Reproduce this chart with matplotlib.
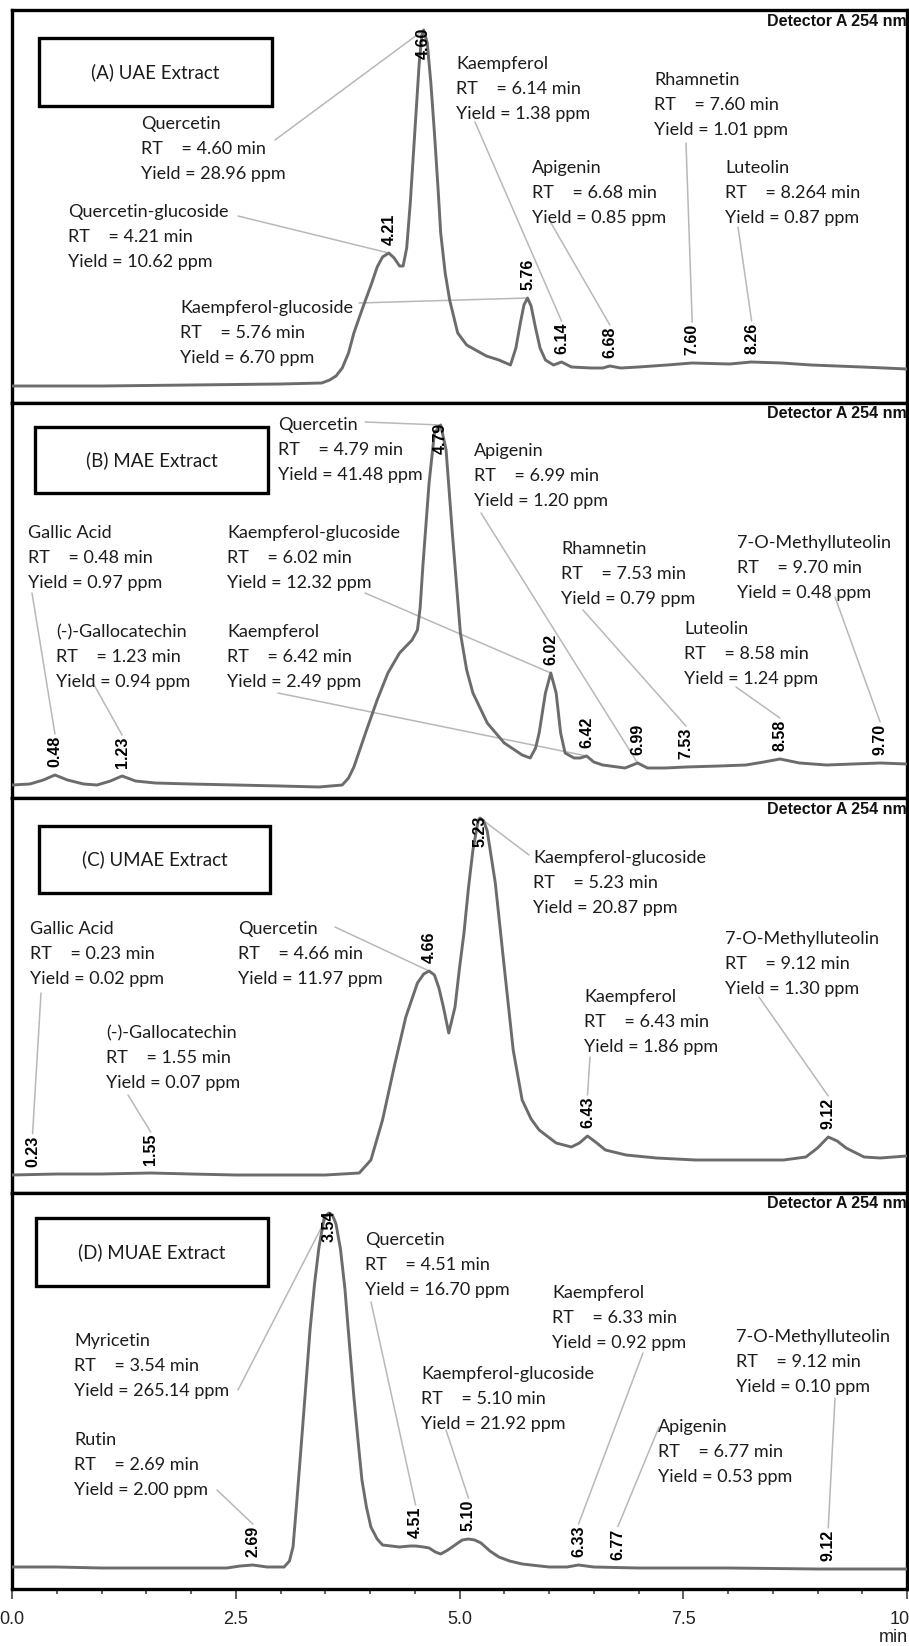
import numpy as np
import matplotlib.pyplot as plt
from matplotlib.patches import Rectangle
from matplotlib.ticker import MultipleLocator

# ---- chromatogram traces (time in min, detector response in arbitrary units) ----
t_a = [0.0, 1.0, 2.0, 3.0, 3.46, 3.55, 3.62, 3.69, 3.76, 3.82, 3.89, 3.95, 4.02, 4.08, 4.14, 4.21,
       4.27, 4.33, 4.37, 4.41, 4.45, 4.50, 4.55, 4.58, 4.60, 4.64, 4.68, 4.72, 4.76, 4.79, 4.84,
       4.89, 4.98, 5.08, 5.18, 5.30, 5.44, 5.57, 5.63, 5.68, 5.72, 5.76, 5.80, 5.85, 5.90, 5.96,
       6.05, 6.14, 6.25, 6.47, 6.60, 6.68, 6.80, 7.00, 7.32, 7.60, 8.02, 8.26, 8.60, 8.93, 9.50, 10.0]
s_a = [17, 17, 18, 19, 20, 23, 27, 35, 50, 70, 88, 103, 120, 136, 146, 150,
       145, 137, 137, 155, 200, 270, 340, 368, 373, 360, 320, 270, 215, 170, 130,
       103, 70, 58, 53, 47, 43, 38, 55, 80, 98, 105, 97, 75, 55, 43,
       38, 41, 36, 35, 35, 37, 35, 36, 38, 40, 39, 41, 40, 38, 36, 34]

t_b = [0.0, 0.2, 0.35, 0.48, 0.62, 0.8, 0.95, 1.1, 1.23, 1.38, 1.6, 2.0, 2.5, 3.0, 3.43, 3.69,
       3.76, 3.82, 3.95, 4.08, 4.20, 4.33, 4.47, 4.53, 4.56, 4.59, 4.66, 4.72, 4.79, 4.85, 4.92,
       5.01, 5.08, 5.15, 5.31, 5.50, 5.70, 5.79, 5.85, 5.89, 5.96, 6.02, 6.08, 6.13, 6.18, 6.28,
       6.35, 6.42, 6.50, 6.60, 6.85, 6.99, 7.10, 7.30, 7.53, 7.90, 8.20, 8.40, 8.58, 8.80, 9.10,
       9.40, 9.70, 10.0]
s_b = [13, 14, 18, 23, 18, 14, 13, 17, 22, 17, 15, 14, 13, 12, 11, 13,
       20, 31, 65, 98, 125, 145, 158, 168, 190, 231, 315, 365, 373, 348, 265,
       165, 128, 105, 75, 55, 43, 40, 50, 65, 105, 125, 105, 65, 45, 40,
       40, 42, 36, 33, 30, 35, 30, 30, 31, 32, 33, 36, 39, 35, 33,
       34, 35, 34]

t_c = [0.0, 0.5, 1.0, 1.55, 2.0, 2.5, 3.0, 3.5, 3.88, 4.01, 4.14, 4.27, 4.40, 4.53, 4.60, 4.66,
       4.72, 4.77, 4.82, 4.88, 4.95, 5.00, 5.05, 5.10, 5.15, 5.21, 5.23, 5.27, 5.31, 5.40, 5.50,
       5.60, 5.70, 5.80, 5.89, 6.08, 6.25, 6.34, 6.43, 6.52, 6.63, 6.86, 7.20, 7.64, 8.20, 8.62,
       8.87, 9.00, 9.12, 9.22, 9.32, 9.52, 9.70, 10.0]
s_c = [18, 19, 19, 20, 19, 18, 18, 18, 20, 33, 73, 126, 176, 210, 219, 222,
       218, 205, 186, 160, 186, 225, 260, 305, 343, 373, 375, 372, 362, 310, 226,
       143, 93, 74, 63, 50, 46, 50, 57, 51, 43, 38, 35, 33, 33, 33,
       36, 45, 56, 52, 45, 36, 35, 37]

t_d = [0.0, 0.5, 1.0, 1.5, 2.0, 2.4, 2.55, 2.69, 2.85, 3.04, 3.10, 3.14, 3.18, 3.23, 3.28, 3.33,
       3.38, 3.43, 3.49, 3.54, 3.58, 3.62, 3.67, 3.72, 3.77, 3.82, 3.87, 3.91, 3.96, 4.01, 4.08,
       4.14, 4.33, 4.45, 4.51, 4.60, 4.66, 4.73, 4.79, 4.87, 4.95, 5.03, 5.10, 5.17, 5.24, 5.34,
       5.44, 5.56, 5.70, 6.00, 6.20, 6.33, 6.50, 7.00, 8.00, 9.00, 10.0]
s_d = [22, 22, 21, 21, 21, 21, 23, 24, 22, 22, 28, 42, 85, 142, 200, 259,
       305, 342, 372, 376, 374, 365, 340, 300, 245, 192, 145, 109, 82, 62, 50,
       44, 42, 43, 43, 42, 41, 37, 35, 39, 44, 49, 50, 49, 46, 38,
       32, 28, 25, 22, 22, 24, 22, 21, 21, 20, 20]

# ---- identified compounds ----
names_a = ['Quercetin-glucoside', 'Quercetin', 'Kaempferol-glucoside', 'Kaempferol',
           'Apigenin', 'Rhamnetin', 'Luteolin']
rt_a = ['4.21', '4.60', '5.76', '6.14', '6.68', '7.60', '8.264']
yield_a = ['10.62', '28.96', '6.70', '1.38', '0.85', '1.01', '0.87']

names_b = ['Gallic Acid', '(-)-Gallocatechin', 'Quercetin', 'Kaempferol-glucoside', 'Kaempferol',
           'Apigenin', 'Rhamnetin', 'Luteolin', '7-O-Methylluteolin']
rt_b = ['0.48', '1.23', '4.79', '6.02', '6.42', '6.99', '7.53', '8.58', '9.70']
yield_b = ['0.97', '0.94', '41.48', '12.32', '2.49', '1.20', '0.79', '1.24', '0.48']

names_c = ['Gallic Acid', '(-)-Gallocatechin', 'Quercetin', 'Kaempferol-glucoside', 'Kaempferol',
           '7-O-Methylluteolin']
rt_c = ['0.23', '1.55', '4.66', '5.23', '6.43', '9.12']
yield_c = ['0.02', '0.07', '11.97', '20.87', '1.86', '1.30']

names_d = ['Rutin', 'Myricetin', 'Quercetin', 'Kaempferol-glucoside', 'Kaempferol', 'Apigenin',
           '7-O-Methylluteolin']
rt_d = ['2.69', '3.54', '4.51', '5.10', '6.33', '6.77', '9.12']
yield_d = ['2.00', '265.14', '16.70', '21.92', '0.92', '0.53', '0.10']

titles = ['(A) UAE Extract', '(B) MAE Extract', '(C) UMAE Extract', '(D) MUAE Extract']
x_ticks = [0.0, 2.5, 5.0, 7.5, 10.0]

# ---- layout (pixels of the 909 x 1646 picture) ----
W, H = 909, 1646
frames = [(10, 403), (403, 798), (798, 1193), (1193, 1589)]
boxes = [(39, 38, 233, 68), (35, 427, 233, 66), (39, 826, 231, 67), (36, 1218, 232, 68)]
# text block (left, first-line y), leader start (x, y), leader end at 'apex' or 'label'
lay_a = [((68, 211), (238, 216), 'apex'), ((141, 123), (275, 140), 'apex'),
         ((180, 307), (359, 303), 'apex'), ((456, 63), (475, 122), 'label'),
         ((532, 167), (551, 223), 'label'), ((654, 79), (686, 143), 'label'),
         ((725, 167), (738, 227), 'label')]
lay_b = [((28, 532), (32, 593), 'label'), ((56, 631), (93, 683), 'label'),
         ((278, 424), (365, 422), 'apex'), ((227, 532), (365, 593), 'apex'),
         ((227, 631), (278, 693), 'apex'), ((474, 450), (481, 513), 'apex'),
         ((561, 548), (583, 610), 'label'), ((684, 628), (736, 687), 'label'),
         ((737, 542), (835, 597), 'label')]
lay_c = [((30, 928), (41, 993), 'label'), ((106, 1032), (128, 1095), 'label'),
         ((238, 928), (335, 927), 'apex'), ((533, 857), (529, 855), 'apex'),
         ((584, 996), (590, 1057), 'label'), ((725, 938), (759, 997), 'label')]
lay_d = [((74, 1439), (217, 1490), 'label'), ((74, 1340), (238, 1390), 'apex'),
         ((365, 1239), (371, 1302), 'label'), ((421, 1373), (446, 1430), 'label'),
         ((552, 1292), (643, 1353), 'label'), ((658, 1426), (659, 1427), 'label'),
         ((736, 1336), (835, 1398), 'label')]

traces = [(t_a, s_a), (t_b, s_b), (t_c, s_c), (t_d, s_d)]
compounds = [(names_a, rt_a, yield_a, lay_a), (names_b, rt_b, yield_b, lay_b),
             (names_c, rt_c, yield_c, lay_c), (names_d, rt_d, yield_d, lay_d)]

ANNOT_FONT = 'Lato'
TXT = '#1c1c1c'
GAP, LAB = 8, 33


def fx(x):
    return x / W


def fy(y):
    return 1 - y / H


fig = plt.figure(figsize=(W / 100, H / 100), dpi=100)

for i in range(4):
    top, bot = frames[i]
    ax = fig.add_axes([fx(12), fy(bot), (907 - 12) / W, (bot - top) / H])
    ax.set_xlim(0, 10)
    ax.set_ylim(0, bot - top)
    ax.set_yticks([])
    for sp in ax.spines.values():
        sp.set_linewidth(2.4)
        sp.set_color('black')
    ax.set_xticks(x_ticks)
    ax.xaxis.set_minor_locator(MultipleLocator(0.5))
    ax.tick_params(axis='x', which='major', direction='out', length=7, width=1.2, color='#444444',
                   labelsize=13, labelcolor='#222222', pad=9)
    ax.tick_params(axis='x', which='minor', direction='out', length=3.5, width=1.2, color='#444444')
    if i < 3:
        ax.set_xticklabels([])
    else:
        ax.set_xticklabels(['%.1f' % v for v in x_ticks], fontfamily='Liberation Sans')

    t, s = traces[i]
    ax.plot(t, s, color='#6c6c6c', lw=2.1, zorder=3)

    names, rts, ylds, lay = compounds[i]
    ytop = bot - top
    for name, rt, yl, (tpos, lstart, kind) in zip(names, rts, ylds, lay):
        r = float(rt)
        apex = np.interp(r, t, s)
        # rotated peak label
        if apex + GAP + LAB > ytop:
            ax.text(r, apex + 2, '%.2f' % r, rotation=90, ha='center', va='top',
                    fontsize=11.5, fontweight='bold', fontfamily='Liberation Sans', zorder=5)
            lab_top = apex
        else:
            ax.text(r, apex + GAP, '%.2f' % r, rotation=90, ha='center', va='bottom',
                    fontsize=11.5, fontweight='bold', fontfamily='Liberation Sans', zorder=5)
            lab_top = apex + GAP + LAB
        yend = apex if kind == 'apex' else lab_top
        ax.annotate('', xy=(r, yend), xycoords='data',
                    xytext=(fx(lstart[0]), fy(lstart[1])), textcoords='figure fraction',
                    arrowprops=dict(arrowstyle='-', color='#b8b8b8', lw=1.1,
                                    shrinkA=0, shrinkB=0), zorder=2)
        # annotation text block
        x0, y0 = tpos
        lines = [name, 'RT    = %s min' % rt, 'Yield = %s ppm' % yl]
        for k, ln in enumerate(lines):
            fig.text(fx(x0), fy(y0 + 25 * k + 6), ln, ha='left', va='baseline',
                     fontsize=13, fontfamily=ANNOT_FONT, color=TXT)

    # detector caption
    fig.text(fx(907), fy(top + 11), 'Detector A 254 nm', ha='right', va='center',
             fontsize=11.5, fontweight='bold', fontfamily='Liberation Sans', color='#111111')
    # extract title box
    bx, by, bw, bh = boxes[i]
    fig.add_artist(Rectangle((fx(bx), fy(by + bh)), bw / W, bh / H, transform=fig.transFigure,
                             fill=False, lw=2.4, edgecolor='black'))
    fig.text(fx(bx + bw / 2), fy(by + bh / 2), titles[i], ha='center', va='center',
             fontsize=13.5, fontfamily=ANNOT_FONT, color=TXT)

fig.text(fx(908), fy(1638), 'min', ha='right', va='center', fontsize=13,
         fontfamily='Liberation Sans', color='#222222')

fig.savefig('out.png', dpi=100, facecolor='white')
